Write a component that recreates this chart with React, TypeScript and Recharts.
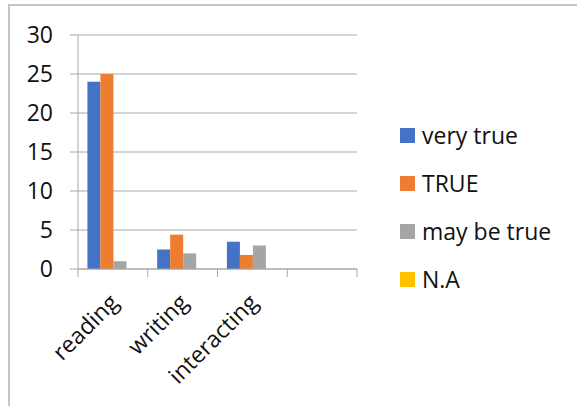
import { BarChart, Bar, XAxis, YAxis, CartesianGrid, Legend } from 'recharts';

// categories and series values
const categories = ['reading', 'writing', 'interacting', ''];
const veryTrue = [24, 2.5, 3.5, null];
const trueVals = [25, 4.4, 1.8, null];
const mayBeTrue = [1, 2, 3, null];
const notApplicable = [null, null, null, null];
const yTicks = [0, 5, 10, 15, 20, 25, 30];

const seriesList = [
    { key: 'veryTrue', label: 'very true', color: '#4472C4' },
    { key: 'trueVals', label: 'TRUE', color: '#ED7D31' },
    { key: 'mayBeTrue', label: 'may be true', color: '#A5A5A5' },
    { key: 'na', label: 'N.A', color: '#FFC000' },
];

const data = categories.map((name, i) => ({
    name,
    veryTrue: veryTrue[i],
    trueVals: trueVals[i],
    mayBeTrue: mayBeTrue[i],
    na: notApplicable[i],
}));

const FONT = '"Open Sans", Lato, sans-serif';
const GRID = '#a8a8a8';

// category label rotated -45deg, plus the Excel-style tick marks on band edges
function CategoryTick(props: any) {
    const { x, y, payload, index } = props;
    const half = payload && payload.offset ? payload.offset : 35;
    const isLast = index === categories.length - 1;
    const ax = x + 7;
    const ay = y + 35;
    return (
        <g>
            <line x1={x - half} y1={y} x2={x - half} y2={y + 8} stroke={GRID} />
            {isLast && <line x1={x + half} y1={y} x2={x + half} y2={y + 8} stroke={GRID} />}
            <text
                x={ax}
                y={ay}
                textAnchor="end"
                transform={`rotate(-45 ${ax} ${ay})`}
                fontSize={23}
                fontFamily={FONT}
                fill="#111"
            >
                {payload.value}
            </text>
        </g>
    );
}

function LegendBox() {
    return (
        <div style={{ fontFamily: FONT, fontSize: 23, color: '#111' }}>
            {seriesList.map(s => (
                <div key={s.key} style={{ height: 48, display: 'flex', alignItems: 'center' }}>
                    <span style={{ width: 15, height: 15, background: s.color, marginRight: 7, display: 'inline-block' }} />
                    <span>{s.label}</span>
                </div>
            ))}
        </div>
    );
}

export default function App() {
    return (
        <div style={{ position: 'absolute', left: 0, top: 0, width: 577, height: 406, background: '#fff', overflow: 'hidden' }}>
            {/* chart area border, runs off the right and bottom edge like the screenshot */}
            <div style={{ position: 'absolute', left: 8, top: 4, width: 700, height: 600, border: '2px solid #c4c4c4' }} />
            <div style={{ position: 'absolute', left: 0, top: 0 }}>
                <BarChart
                    width={577}
                    height={406}
                    data={data}
                    margin={{ top: 35, right: 220, bottom: 0, left: 0 }}
                    barCategoryGap="13.5%"
                    barGap={0}
                >
                    <CartesianGrid vertical={false} stroke={GRID} />
                    <XAxis
                        dataKey="name"
                        stroke={GRID}
                        tickLine={false}
                        tickSize={0}
                        tickMargin={0}
                        interval={0}
                        tick={<CategoryTick />}
                        height={137}
                    />
                    <YAxis
                        width={78}
                        domain={[0, 30]}
                        ticks={yTicks}
                        interval={0}
                        stroke={GRID}
                        tickSize={8}
                        tickMargin={17}
                        tick={{ fontSize: 23, fontFamily: FONT, fill: '#111' }}
                    />
                    <Legend
                        layout="vertical"
                        align="center"
                        verticalAlign="middle"
                        content={<LegendBox />}
                        wrapperStyle={{ position: 'absolute', left: 400, top: 111, width: 175 }}
                    />
                    {seriesList.map(s => (
                        <Bar key={s.key} dataKey={s.key} name={s.label} fill={s.color} isAnimationActive={false} />
                    ))}
                </BarChart>
            </div>
        </div>
    );
}
